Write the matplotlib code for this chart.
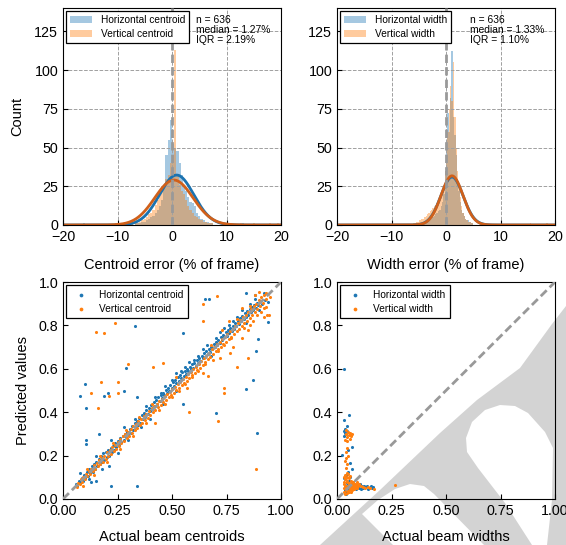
import numpy as np
import matplotlib
matplotlib.use('Agg')
import matplotlib.pyplot as plt
from matplotlib.patches import Polygon

plt.rcParams['font.family'] = ['Liberation Sans', 'DejaVu Sans']
plt.rcParams['xtick.direction'] = 'in'
plt.rcParams['ytick.direction'] = 'in'

BLUE = '#1f77b4'
ORANGE = '#ff7f0e'

# ---- histogram data (counts per bin) ----
n_samples = 636

# centroid error, bins of 0.4 starting at -8.0
centroid_bin_start = -8.0
centroid_bin_width = 0.4
h_centroid_counts = [0, 1, 0, 1, 1, 1, 2, 2, 3, 4,
                     5, 6, 8, 10, 12, 16, 25, 45, 55, 68,
                     52, 50, 48, 40, 32, 26, 22, 18, 15, 14,
                     12, 8, 6, 4, 3, 2, 2, 1, 1, 0]
v_centroid_counts = [1, 1, 0, 2, 1, 2, 3, 4, 5, 7,
                     8, 10, 13, 16, 20, 22, 26, 30, 32, 40,
                     45, 113, 32, 26, 22, 20, 16, 12, 10, 8,
                     6, 5, 4, 3, 2, 2, 1, 1, 1, 0]
h_centroid_outliers = [-16.2, 10.4, 13.0]
v_centroid_outliers = [-10.2, -9.4, 10.2, 12.6, 15.0, 18.0, 19.4]
h_centroid_fit = (0.85, 3.15)   # mean, std
v_centroid_fit = (0.35, 3.5)

# width error, bins of 0.25 starting at -6.0
width_bin_start = -6.0
width_bin_width = 0.25
h_width_counts = [0, 0, 1, 0, 1, 0, 1, 1,
                  1, 2, 2, 3, 3, 4, 5, 6,
                  7, 8, 9, 10, 12, 15, 20, 35,
                  55, 72, 60, 82, 112, 70, 58, 45,
                  30, 22, 15, 10, 8, 6, 4, 3,
                  3, 2, 1, 1, 0, 0, 0, 0]
v_width_counts = [1, 1, 2, 2, 3, 3, 4, 4,
                  5, 6, 7, 8, 9, 10, 11, 12,
                  13, 14, 15, 16, 18, 20, 25, 35,
                  45, 60, 75, 90, 80, 105, 70, 50,
                  35, 25, 18, 12, 8, 6, 4, 3,
                  2, 2, 1, 1, 0, 0, 0, 0]
v_width_outliers = [15.5, 18.5]
h_width_fit = (1.1, 2.05)
v_width_fit = (1.1, 2.0)

centroid_stats = 'n = 636\nmedian = 1.27%\nIQR = 2.19%'
width_stats = 'n = 636\nmedian = 1.33%\nIQR = 1.10%'

# ---- scatter data ----
h_centroid_pts = [
    (0.060, 0.070), (0.066, 0.058), (0.072, 0.085), (0.078, 0.074), (0.085, 0.095), (0.090, 0.082),
    (0.097, 0.112), (0.103, 0.098), (0.110, 0.125), (0.115, 0.108), (0.121, 0.140), (0.126, 0.118),
    (0.132, 0.150), (0.137, 0.126), (0.143, 0.160), (0.148, 0.140), (0.152, 0.172), (0.158, 0.150),
    (0.163, 0.185), (0.168, 0.160), (0.174, 0.196), (0.179, 0.170), (0.185, 0.210), (0.190, 0.178),
    (0.196, 0.215), (0.201, 0.192), (0.207, 0.228), (0.212, 0.200), (0.218, 0.235), (0.223, 0.215),
    (0.229, 0.245), (0.234, 0.226), (0.240, 0.258), (0.245, 0.240), (0.251, 0.268), (0.256, 0.250),
    (0.262, 0.280), (0.267, 0.262), (0.273, 0.292), (0.278, 0.270), (0.284, 0.300), (0.289, 0.285),
    (0.295, 0.310), (0.300, 0.300), (0.306, 0.322), (0.311, 0.305), (0.317, 0.335), (0.322, 0.318),
    (0.328, 0.350), (0.333, 0.330), (0.339, 0.360), (0.344, 0.342), (0.350, 0.372), (0.355, 0.352),
    (0.361, 0.385), (0.366, 0.368), (0.372, 0.395), (0.377, 0.378), (0.383, 0.408), (0.388, 0.390),
    (0.394, 0.420), (0.399, 0.405), (0.405, 0.432), (0.410, 0.415), (0.416, 0.445), (0.421, 0.428),
    (0.427, 0.455), (0.432, 0.440), (0.438, 0.468), (0.443, 0.452), (0.449, 0.480), (0.454, 0.465),
    (0.460, 0.490), (0.465, 0.478), (0.471, 0.502), (0.476, 0.490), (0.482, 0.512), (0.487, 0.500),
    (0.493, 0.525), (0.498, 0.512), (0.504, 0.538), (0.509, 0.522), (0.515, 0.548), (0.520, 0.535),
    (0.526, 0.560), (0.531, 0.545), (0.537, 0.572), (0.542, 0.556), (0.548, 0.585), (0.553, 0.566),
    (0.559, 0.592), (0.564, 0.575), (0.570, 0.600), (0.575, 0.588), (0.581, 0.610), (0.586, 0.598),
    (0.592, 0.620), (0.597, 0.605), (0.603, 0.628), (0.608, 0.615), (0.614, 0.640), (0.619, 0.625),
    (0.625, 0.650), (0.630, 0.635), (0.636, 0.660), (0.641, 0.648), (0.647, 0.672), (0.652, 0.655),
    (0.658, 0.680), (0.663, 0.668), (0.669, 0.692), (0.674, 0.678), (0.680, 0.700), (0.685, 0.690),
    (0.691, 0.712), (0.696, 0.700), (0.702, 0.722), (0.707, 0.710), (0.713, 0.735), (0.718, 0.720),
    (0.724, 0.745), (0.729, 0.732), (0.735, 0.755), (0.740, 0.745), (0.746, 0.768), (0.751, 0.752),
    (0.757, 0.778), (0.762, 0.765), (0.768, 0.790), (0.773, 0.775), (0.779, 0.798), (0.784, 0.785),
    (0.790, 0.810), (0.795, 0.795), (0.801, 0.822), (0.806, 0.805), (0.812, 0.832), (0.817, 0.818),
    (0.823, 0.842), (0.828, 0.830), (0.834, 0.855), (0.839, 0.838), (0.845, 0.865), (0.850, 0.850),
    (0.856, 0.875), (0.861, 0.860), (0.867, 0.885), (0.872, 0.870), (0.878, 0.895), (0.884, 0.880),
    (0.890, 0.905), (0.896, 0.892), (0.905, 0.912), (0.915, 0.900), (0.925, 0.918),
    # looser points along the diagonal
    (0.08, 0.12), (0.12, 0.09), (0.15, 0.20), (0.18, 0.14), (0.22, 0.27), (0.25, 0.21),
    (0.28, 0.33), (0.30, 0.27), (0.33, 0.37), (0.36, 0.33), (0.38, 0.43), (0.40, 0.37),
    (0.42, 0.47), (0.45, 0.49), (0.47, 0.52), (0.50, 0.55), (0.52, 0.58), (0.54, 0.59),
    (0.56, 0.61), (0.58, 0.63), (0.60, 0.64), (0.62, 0.66), (0.64, 0.69), (0.66, 0.71),
    (0.68, 0.66), (0.70, 0.74), (0.72, 0.77), (0.74, 0.79), (0.76, 0.80), (0.78, 0.82),
    (0.80, 0.84), (0.82, 0.87), (0.84, 0.81), (0.86, 0.90), (0.88, 0.92), (0.90, 0.87),
    (0.92, 0.95), (0.94, 0.91), (0.52, 0.50), (0.46, 0.44),
    # scattered points
    (0.330, 0.797), (0.078, 0.475), (0.100, 0.530), (0.105, 0.418), (0.105, 0.272), (0.105, 0.253),
    (0.165, 0.300), (0.205, 0.487), (0.190, 0.475), (0.280, 0.500), (0.290, 0.605), (0.340, 0.470),
    (0.340, 0.060), (0.220, 0.060), (0.550, 0.763), (0.550, 0.436), (0.650, 0.920), (0.670, 0.920),
    (0.700, 0.395), (0.840, 0.507), (0.870, 0.548), (0.885, 0.682), (0.896, 0.736), (0.890, 0.306),
    (0.940, 0.814), (0.840, 0.950), (0.130, 0.080), (0.150, 0.085), (0.210, 0.150), (0.880, 0.940),
]
v_centroid_pts = [
    (0.065, 0.055), (0.070, 0.075), (0.076, 0.068), (0.082, 0.090), (0.088, 0.080), (0.094, 0.100),
    (0.100, 0.092), (0.106, 0.115), (0.112, 0.104), (0.118, 0.128), (0.124, 0.115), (0.130, 0.140),
    (0.136, 0.128), (0.142, 0.155), (0.148, 0.138), (0.154, 0.168), (0.160, 0.150), (0.166, 0.178),
    (0.172, 0.162), (0.178, 0.190), (0.184, 0.172), (0.190, 0.200), (0.196, 0.185), (0.202, 0.215),
    (0.208, 0.198), (0.214, 0.225), (0.220, 0.208), (0.226, 0.238), (0.232, 0.220), (0.238, 0.250),
    (0.244, 0.232), (0.250, 0.262), (0.256, 0.245), (0.262, 0.275), (0.268, 0.258), (0.274, 0.290),
    (0.280, 0.268), (0.286, 0.298), (0.292, 0.280), (0.298, 0.310), (0.304, 0.292), (0.310, 0.322),
    (0.316, 0.305), (0.322, 0.335), (0.328, 0.318), (0.334, 0.345), (0.340, 0.328), (0.346, 0.358),
    (0.352, 0.340), (0.358, 0.370), (0.364, 0.352), (0.370, 0.382), (0.376, 0.365), (0.382, 0.392),
    (0.388, 0.375), (0.394, 0.405), (0.400, 0.388), (0.406, 0.418), (0.412, 0.400), (0.418, 0.428),
    (0.424, 0.410), (0.430, 0.440), (0.436, 0.422), (0.442, 0.452), (0.448, 0.435), (0.454, 0.462),
    (0.460, 0.445), (0.466, 0.475), (0.472, 0.458), (0.478, 0.485), (0.484, 0.468), (0.490, 0.495),
    (0.496, 0.480), (0.502, 0.508), (0.508, 0.490), (0.514, 0.518), (0.520, 0.502), (0.526, 0.530),
    (0.532, 0.512), (0.538, 0.540), (0.544, 0.525), (0.550, 0.552), (0.556, 0.535), (0.562, 0.562),
    (0.568, 0.545), (0.574, 0.575), (0.580, 0.558), (0.586, 0.585), (0.592, 0.570), (0.598, 0.598),
    (0.604, 0.582), (0.610, 0.610), (0.616, 0.595), (0.622, 0.622), (0.628, 0.605), (0.634, 0.635),
    (0.640, 0.618), (0.646, 0.648), (0.652, 0.630), (0.658, 0.660), (0.664, 0.645), (0.670, 0.672),
    (0.676, 0.655), (0.682, 0.690), (0.688, 0.668), (0.694, 0.700), (0.700, 0.680), (0.706, 0.712),
    (0.712, 0.690), (0.718, 0.722), (0.724, 0.700), (0.730, 0.738), (0.736, 0.712), (0.742, 0.748),
    (0.748, 0.722), (0.754, 0.760), (0.760, 0.738), (0.766, 0.772), (0.772, 0.745), (0.778, 0.785),
    (0.784, 0.760), (0.790, 0.798), (0.796, 0.772), (0.802, 0.812), (0.808, 0.785), (0.814, 0.825),
    (0.820, 0.795), (0.826, 0.838), (0.832, 0.810), (0.838, 0.850), (0.844, 0.822), (0.850, 0.862),
    (0.856, 0.835), (0.862, 0.875), (0.868, 0.848), (0.874, 0.888), (0.880, 0.860), (0.886, 0.900),
    (0.892, 0.875), (0.898, 0.915), (0.904, 0.890), (0.910, 0.930), (0.916, 0.905), (0.922, 0.940),
    (0.930, 0.920), (0.940, 0.945),
    # looser points along the diagonal
    (0.09, 0.06), (0.11, 0.14), (0.14, 0.11), (0.17, 0.20), (0.20, 0.17), (0.23, 0.26),
    (0.26, 0.23), (0.29, 0.32), (0.32, 0.29), (0.35, 0.38), (0.38, 0.35), (0.41, 0.44),
    (0.44, 0.41), (0.47, 0.44), (0.50, 0.47), (0.53, 0.50), (0.56, 0.53), (0.59, 0.56),
    (0.62, 0.59), (0.65, 0.62), (0.68, 0.71), (0.71, 0.68), (0.74, 0.71), (0.77, 0.74),
    (0.80, 0.83), (0.83, 0.79), (0.86, 0.89), (0.89, 0.85), (0.92, 0.88), (0.95, 0.93),
    (0.76, 0.82), (0.82, 0.88), (0.87, 0.82), (0.91, 0.86), (0.73, 0.78), (0.69, 0.64),
    (0.64, 0.58), (0.57, 0.51), (0.93, 0.95), (0.85, 0.78),
    # scattered points
    (0.150, 0.771), (0.190, 0.763), (0.240, 0.810), (0.130, 0.490), (0.174, 0.540), (0.250, 0.540),
    (0.250, 0.487), (0.210, 0.475), (0.160, 0.418), (0.300, 0.620), (0.415, 0.610), (0.460, 0.628),
    (0.420, 0.352), (0.580, 0.402), (0.705, 0.935), (0.640, 0.900), (0.640, 0.820), (0.710, 0.361),
    (0.740, 0.513), (0.740, 0.490), (0.800, 0.610), (0.850, 0.650), (0.885, 0.138), (0.935, 0.848),
    (0.930, 0.886), (0.766, 0.671), (0.667, 0.567), (0.520, 0.560), (0.780, 0.700), (0.820, 0.740),
    (0.860, 0.800), (0.920, 0.840), (0.945, 0.850), (0.720, 0.650), (0.900, 0.955), (0.880, 0.940),
]
h_width_pts = [
    (0.034, 0.600), (0.057, 0.385), (0.032, 0.362), (0.045, 0.338), (0.030, 0.315), (0.035, 0.305),
    (0.040, 0.298), (0.033, 0.290), (0.045, 0.312), (0.038, 0.322), (0.068, 0.240), (0.050, 0.228),
    (0.025, 0.205), (0.060, 0.168), (0.052, 0.125), (0.068, 0.137), (0.040, 0.110), (0.030, 0.095),
    (0.080, 0.060), (0.090, 0.055), (0.100, 0.050), (0.106, 0.070), (0.115, 0.058), (0.120, 0.050),
    (0.130, 0.055), (0.137, 0.058), (0.145, 0.052), (0.155, 0.060), (0.160, 0.050), (0.165, 0.055),
    (0.110, 0.045), (0.095, 0.065), (0.035, 0.040), (0.040, 0.060), (0.045, 0.075), (0.050, 0.050),
    (0.055, 0.085), (0.060, 0.045), (0.065, 0.070), (0.070, 0.055), (0.038, 0.090), (0.048, 0.030),
    (0.075, 0.080), (0.085, 0.045), (0.058, 0.100), (0.042, 0.025), (0.125, 0.062), (0.140, 0.048),
]
v_width_pts = [
    (0.040, 0.300), (0.045, 0.285), (0.050, 0.310), (0.055, 0.295), (0.060, 0.305), (0.065, 0.290),
    (0.070, 0.300), (0.042, 0.320), (0.058, 0.275), (0.035, 0.270), (0.048, 0.265), (0.045, 0.235),
    (0.040, 0.215), (0.042, 0.190), (0.038, 0.175), (0.045, 0.160), (0.040, 0.145), (0.050, 0.200),
    (0.030, 0.030), (0.032, 0.050), (0.034, 0.070), (0.036, 0.090), (0.038, 0.110), (0.040, 0.040),
    (0.042, 0.060), (0.044, 0.080), (0.046, 0.100), (0.048, 0.120), (0.050, 0.035), (0.052, 0.055),
    (0.054, 0.075), (0.056, 0.095), (0.058, 0.045), (0.060, 0.065), (0.062, 0.085), (0.064, 0.050),
    (0.066, 0.070), (0.068, 0.040), (0.070, 0.060), (0.072, 0.080), (0.074, 0.050), (0.076, 0.065),
    (0.078, 0.045), (0.080, 0.055), (0.082, 0.070), (0.085, 0.050), (0.088, 0.060), (0.092, 0.050),
    (0.095, 0.058), (0.035, 0.025), (0.045, 0.028), (0.055, 0.030), (0.065, 0.032), (0.038, 0.060),
    (0.048, 0.085), (0.058, 0.105), (0.033, 0.100), (0.043, 0.045), (0.053, 0.065), (0.063, 0.040),
    (0.073, 0.070), (0.031, 0.080), (0.041, 0.095), (0.051, 0.115), (0.061, 0.055), (0.071, 0.045),
    (0.081, 0.062), (0.091, 0.068), (0.110, 0.060), (0.120, 0.055), (0.130, 0.050), (0.140, 0.055),
    (0.150, 0.050), (0.170, 0.048), (0.267, 0.065), (0.100, 0.070), (0.090, 0.080),
]

# background mark (pixel outline of the grey shape behind the lower right panel)
mark_grey = [(566, 306), (552, 324), (520, 368), (477, 400), (440, 433), (380, 490),
             (320, 545), (566, 545)]
mark_notch = [(362, 514), (378, 500), (395, 489), (410, 484), (424, 486), (434, 494),
              (484, 545), (393, 545)]
mark_hole = [(466, 438), (472, 422), (485, 410), (500, 405), (515, 406), (528, 413),
             (545, 432), (553, 448), (552, 500), (547, 545), (532, 545), (505, 503),
             (478, 468), (467, 452)]

W, H = 566, 545
fig = plt.figure(figsize=(W / 100, H / 100), dpi=100)


def px(pts):
    return [(x / W, 1 - y / H) for x, y in pts]


fig.add_artist(Polygon(px(mark_grey), closed=True, color='#d3d3d3', lw=0,
                       transform=fig.transFigure, zorder=-3))
for shape in (mark_notch, mark_hole):
    fig.add_artist(Polygon(px(shape), closed=True, color='white', lw=0,
                           transform=fig.transFigure, zorder=-2))

axw, axh = 218 / W, 217 / H
ax1 = fig.add_axes([63 / W, 1 - 225 / H, axw, axh])
ax2 = fig.add_axes([337 / W, 1 - 225 / H, axw, axh])
ax3 = fig.add_axes([63 / W, 1 - 499 / H, axw, axh])
ax4 = fig.add_axes([337 / W, 1 - 499 / H, axw, axh])
for ax in (ax1, ax2, ax3, ax4):
    ax.set_facecolor('none')
    ax.tick_params(labelsize=10.3, length=3.5, width=0.8)


def gauss(x, fit, bw):
    mu, sd = fit
    return n_samples * bw / (sd * np.sqrt(2 * np.pi)) * np.exp(-0.5 * ((x - mu) / sd) ** 2)


def hist_panel(ax, start, bw, hc, vc, h_out, v_out, hfit, vfit, labels, stats, xlabel):
    hcen = start + bw / 2 + bw * np.arange(len(hc))
    vcen = start + bw / 2 + bw * np.arange(len(vc))
    hb = ax.bar(hcen, hc, width=bw, color=BLUE, alpha=0.4, lw=0)
    ax.bar(h_out, [1] * len(h_out), width=bw, color=BLUE, alpha=0.4, lw=0)
    vb = ax.bar(vcen, vc, width=bw, color=ORANGE, alpha=0.4, lw=0)
    ax.bar(v_out, [1] * len(v_out), width=bw, color=ORANGE, alpha=0.4, lw=0)
    xs = np.linspace(-20, 20, 600)
    ax.plot(xs, gauss(xs, hfit, bw), color='#1a72b0', lw=2)
    ax.plot(xs, gauss(xs, vfit, bw), color='#d0601a', lw=2)
    ax.axvline(0, color='#999999', ls='--', lw=2, dashes=(3, 1.5), zorder=3)
    ax.set_xlim(-20, 20)
    ax.set_ylim(0, 140)
    ax.set_xticks([-20, -10, 0, 10, 20])
    ax.set_yticks([0, 25, 50, 75, 100, 125])
    ax.grid(True, ls='--', color='#a0a0a0', lw=0.7)
    ax.set_xlabel(xlabel, fontsize=10.5, labelpad=10)
    leg = ax.legend([hb, vb], labels, loc='upper left', fontsize=7.3, fancybox=False,
                    edgecolor='black', framealpha=1, borderaxespad=0.3,
                    handlelength=2.2, borderpad=0.4, labelspacing=0.35)
    leg.get_frame().set_linewidth(0.9)
    ax.text(0.61, 0.97, stats, transform=ax.transAxes, va='top', ha='left',
            fontsize=7.4, linespacing=1.05)


hist_panel(ax1, centroid_bin_start, centroid_bin_width, h_centroid_counts, v_centroid_counts,
           h_centroid_outliers, v_centroid_outliers, h_centroid_fit, v_centroid_fit,
           ['Horizontal centroid', 'Vertical centroid'], centroid_stats,
           'Centroid error (% of frame)')
ax1.set_ylabel('Count', fontsize=10.5, labelpad=7)
hist_panel(ax2, width_bin_start, width_bin_width, h_width_counts, v_width_counts,
           [], v_width_outliers, h_width_fit, v_width_fit,
           ['Horizontal width', 'Vertical width'], width_stats,
           'Width error (% of frame)')


def scatter_panel(ax, hpts, vpts, labels, xlabel):
    hx, hy = zip(*hpts)
    vx, vy = zip(*vpts)
    ax.scatter(hx, hy, s=5, color=BLUE, lw=0, label=labels[0], zorder=2)
    ax.scatter(vx, vy, s=5, color=ORANGE, lw=0, label=labels[1], zorder=2)
    ax.plot([0, 1], [0, 1], color='#999999', ls='--', lw=2, dashes=(3, 1.5), zorder=3)
    ax.set_xlim(0, 1)
    ax.set_ylim(0, 1)
    ax.set_xticks([0, 0.25, 0.5, 0.75, 1.0])
    ax.set_xticklabels(['0.00', '0.25', '0.50', '0.75', '1.00'])
    ax.set_yticks([0, 0.2, 0.4, 0.6, 0.8, 1.0])
    ax.set_yticklabels(['0.0', '0.2', '0.4', '0.6', '0.8', '1.0'])
    ax.set_xlabel(xlabel, fontsize=10.5, labelpad=8.5)
    leg = ax.legend(loc='upper left', fontsize=7.3, fancybox=False, edgecolor='black',
                    framealpha=1, borderaxespad=0.3, markerscale=1.2,
                    borderpad=0.45, labelspacing=0.4)
    leg.get_frame().set_linewidth(0.9)


scatter_panel(ax3, h_centroid_pts, v_centroid_pts,
              ['Horizontal centroid', 'Vertical centroid'], 'Actual beam centroids')
ax3.set_ylabel('Predicted values', fontsize=10.5, labelpad=6)
scatter_panel(ax4, h_width_pts, v_width_pts,
              ['Horizontal width', 'Vertical width'], 'Actual beam widths')

fig.savefig('out.png', dpi=100)
